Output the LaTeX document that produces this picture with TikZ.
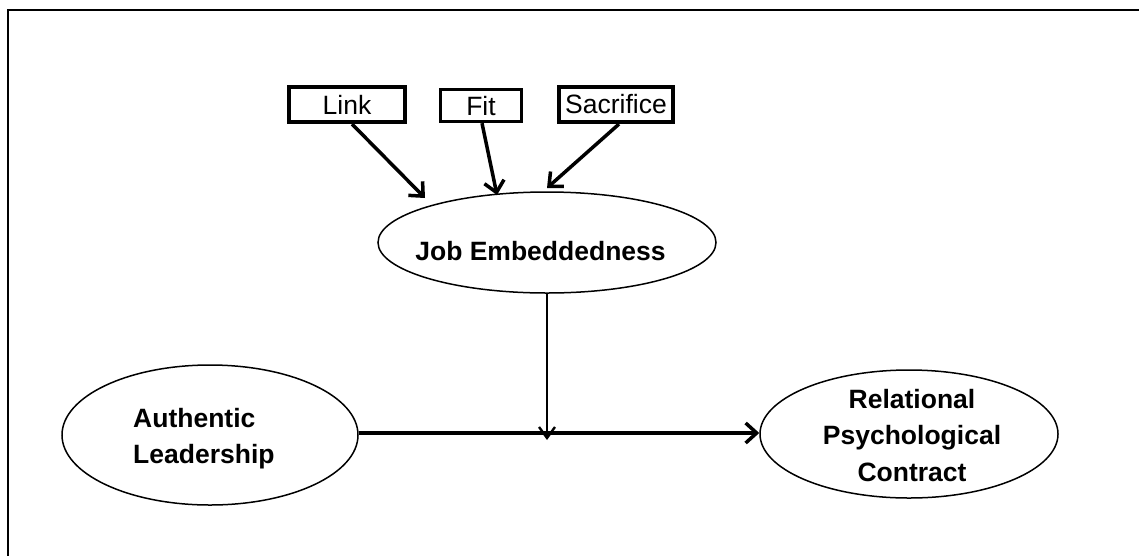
\documentclass[tikz,border=0pt]{standalone}
\usepackage{fontspec}
\setmainfont{Liberation Sans}
\usetikzlibrary{arrows.meta,shapes.geometric}
\begin{document}
\begin{tikzpicture}[x=1pt,y=-1pt,
  boxlabel/.style={draw, line width=3.6pt, inner sep=0pt, minimum width=116pt, minimum height=35.5pt, font=\fontsize{26.5}{30}\selectfont},
  oval/.style={draw, ellipse, line width=1.5pt, inner sep=0pt},
  txt/.style={font=\fontsize{26.5}{36.5}\selectfont\bfseries, inner sep=0pt},
  arr/.style={line width=3.5pt, -{Straight Barb[length=11pt,width=20pt]}},
  thinarr/.style={line width=2.4pt, -{Straight Barb[length=11pt,width=16pt]}},
]
\useasboundingbox (0,0) rectangle (1139,555);
\clip (0,0) rectangle (1139,555);
\fill[white] (0,0) rectangle (1139,555);
\draw[line width=2.6pt] (8,10) rectangle (1200,620);

% boxes
\node[boxlabel] (link) at (347,104.5) {Link};
\node[boxlabel, line width=2.8pt, minimum width=81.5pt, minimum height=32.5pt] (fit) at (481,105.5) {Fit};
\node[boxlabel, minimum width=114.5pt] (sac) at (616,104.5) {Sacrifice};

% ellipses
\node[oval, minimum width=338pt, minimum height=101pt] (je) at (547,242.5) {};
\node[oval, minimum width=296pt, minimum height=140pt] (al) at (210,435) {};
\node[oval, minimum width=298pt, minimum height=128pt] (rpc) at (909,434) {};

% texts
\node[txt, anchor=base] (jet) at (540.5,260) {Job Embeddedness};
\node[txt, anchor=north west, align=left] (alt) at (133,408) {Authentic\\Leadership};
\node[txt, anchor=north, align=center] (rpct) at (912,389) {Relational\\Psychological\\Contract};

% arrow tips
\coordinate (tipL) at (425,198);
\coordinate (tipF) at (497,195);
\coordinate (tipS) at (547,188);
\coordinate (tipM) at (547,440);

\draw[arr] ([xshift=5pt]link.south) -- (tipL);
\draw[arr] ([xshift=1pt]fit.south) -- (tipF);
\draw[arr] ([xshift=3pt]sac.south) -- (tipS);
\draw[arr] (al.east |- 0,433) -- (rpc.west |- 0,433);
\draw[thinarr] (je.south) -- (tipM);
\end{tikzpicture}
\end{document}
